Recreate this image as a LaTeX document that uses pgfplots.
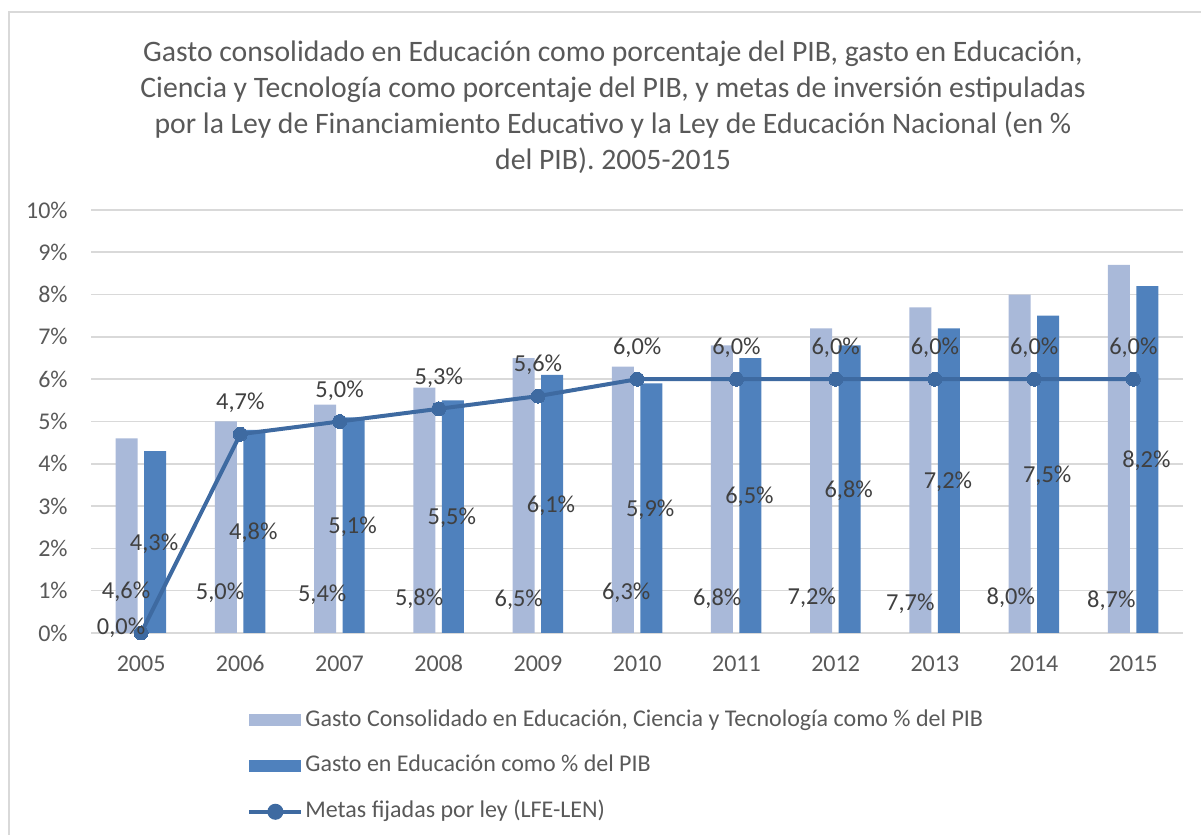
\documentclass[border=0pt]{standalone}
\usepackage{fontspec}
\setmainfont{Carlito}
\usepackage{pgfplots}
\usepackage{pgfplotstable}
\pgfplotsset{compat=1.18}
\definecolor{lightc}{RGB}{169,185,217}
\definecolor{darkc}{RGB}{79,129,189}
\definecolor{linec}{RGB}{62,106,161}
\definecolor{gridc}{RGB}{217,217,217}
\definecolor{txt}{RGB}{64,64,64}
\definecolor{tickc}{RGB}{89,89,89}

\pgfplotstableread{
x light dark
2005 4.6 4.3
2006 5.0 4.8
2007 5.4 5.1
2008 5.8 5.5
2009 6.5 6.1
2010 6.3 5.9
2011 6.8 6.5
2012 7.2 6.8
2013 7.7 7.2
2014 8.0 7.5
2015 8.7 8.2
}\bars

\pgfplotstableread{
x meta
2005 0.0
2006 4.7
2007 5.0
2008 5.3
2009 5.6
2010 6.0
2011 6.0
2012 6.0
2013 6.0
2014 6.0
2015 6.0
}\metas

% positions of the labels of the light bars (as placed in the reference)
\pgfplotstableread{
x y v
2004.849 0.97 4.6
2005.796 0.95 5.0
2006.825 0.90 5.4
2007.802 0.80 5.8
2008.806 0.78 6.5
2009.889 0.95 6.3
2010.806 0.80 6.8
2011.759 0.83 7.2
2012.752 0.69 7.7
2013.765 0.83 8.0
2014.778 0.76 8.7
}\lightlab

\newcommand{\lab}{\pgfmathprintnumber[fixed,fixed zerofill,precision=1,use comma,assume math mode=true]{\pgfplotspointmeta}\%}

\begin{document}
\begin{tikzpicture}
\useasboundingbox (0pt,0pt) rectangle (600.5pt,417.5pt);
\draw[gridc, line width=0.8pt] (4.35pt,-20pt) -- (4.35pt,411.6pt) -- (640pt,411.6pt);
\begin{scope}[every node/.style={anchor=base, text=tickc, inner sep=0pt, font=\fontsize{14.85}{18}\selectfont}]
\node at (306.5pt,386.5pt) {Gasto consolidado en Educación como porcentaje del PIB, gasto en Educación,};
\node at (306.5pt,368.5pt) {Ciencia y Tecnología como porcentaje del PIB, y metas de inversión estipuladas};
\node at (306.5pt,350.5pt) {por la Ley de Financiamiento Educativo y la Ley de Educación Nacional (en \%};
\node at (306.5pt,332.5pt) {del PIB). 2005-2015};
\end{scope}
\begin{axis}[
  at={(45.75pt,101pt)}, anchor=south west,
  width=545.75pt, height=211.5pt, scale only axis,
  xmin=2004.5, xmax=2015.5, ymin=0, ymax=10,
  clip=false,
  axis line style={draw=none},
  major tick length=0pt,
  ymajorgrids, grid style={gridc, line width=0.8pt},
  ytick={0,1,...,10},
  yticklabels={0\%,1\%,2\%,3\%,4\%,5\%,6\%,7\%,8\%,9\%,10\%},
  xtick={2005,...,2015},
  xticklabels={2005,2006,2007,2008,2009,2010,2011,2012,2013,2014,2015},
  yticklabel style={font=\fontsize{12}{14}\selectfont, text=tickc, inner sep=0pt, anchor=east},
  yticklabel shift=11.75pt,
  xticklabel style={font=\fontsize{12}{14}\selectfont, text=tickc, inner sep=0pt, anchor=base},
  xticklabel shift=19.5pt,
  legend style={at={(0.14246,-0.1815)}, anchor=north west, draw=none, fill=none,
    inner sep=0pt, row sep=12.9pt, column sep=1pt,
    font=\fontsize{12}{14}\selectfont, text=tickc,
    nodes={inner sep=0pt, text height=8pt, text depth=2pt}},
  legend cell align=left,
]
\addplot[ybar, bar width=11pt, bar shift=-7.25pt, fill=lightc, draw=none,
  legend image code/.code={\fill[lightc] (0pt,-3pt) rectangle (26pt,3pt);}]
  table[x=x, y=light] {\bars};
\addlegendentry{Gasto Consolidado en Educación, Ciencia y Tecnología como \% del PIB}
\addplot[ybar, bar width=11pt, bar shift=7pt, fill=darkc, draw=none,
  legend image code/.code={\fill[darkc] (0pt,-3pt) rectangle (26pt,3pt);}]
  table[x=x, y=dark] {\bars};
\addlegendentry{Gasto en Educación como \% del PIB}
\addplot[color=linec, line width=2pt, mark=*, mark size=3.5pt, mark options={fill=linec, draw=linec, line width=0pt},
  legend image code/.code={\draw[linec, line width=2pt] (0pt,0pt) -- (26pt,0pt); \fill[linec] (13pt,0pt) circle (3pt);}]
  table[x=x, y=meta] {\metas};
\addlegendentry{Metas fijadas por ley (LFE-LEN)}
% labels of the light bars
\addplot[forget plot, draw=none, mark=none, point meta=explicit,
  nodes near coords={\lab},
  every node near coord/.style={anchor=center, inner sep=0pt, text=txt, font=\fontsize{12.2}{14}\selectfont}]
  table[x=x, y=y, meta=v] {\lightlab};
% labels of the dark bars, at half their height
\addplot[forget plot, draw=none, mark=none, point meta=explicit,
  nodes near coords={\lab},
  every node near coord/.style={anchor=center, inner sep=0pt, xshift=6.5pt, yshift=-0.75pt, text=txt, font=\fontsize{12.2}{14}\selectfont}]
  table[x=x, y expr=\thisrow{dark}/2, meta=dark] {\bars};
% labels of the line, 2006-2015 above the points
\addplot[forget plot, draw=none, mark=none, point meta=explicit,
  skip coords between index={0}{1},
  nodes near coords={\lab},
  every node near coord/.style={anchor=center, inner sep=0pt, yshift=15.5pt, text=txt, font=\fontsize{12.2}{14}\selectfont}]
  table[x=x, y=meta, meta=meta] {\metas};
% label of the line, 2005, left of the point
\addplot[forget plot, draw=none, mark=none, point meta=explicit,
  restrict expr to domain={\coordindex}{0:0},
  nodes near coords={\lab},
  every node near coord/.style={anchor=center, inner sep=0pt, xshift=-10pt, yshift=2.5pt, text=txt, font=\fontsize{12.2}{14}\selectfont}]
  table[x=x, y=meta, meta=meta] {\metas};
\end{axis}
\end{tikzpicture}
\end{document}
